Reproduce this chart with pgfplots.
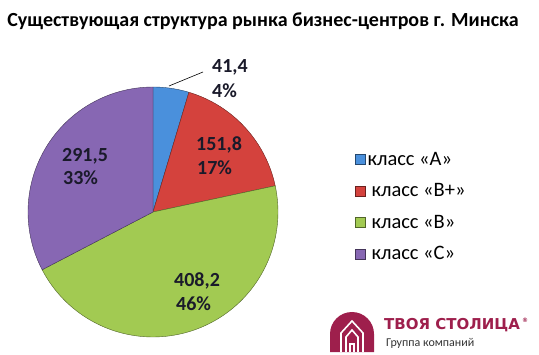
\documentclass[border=0pt]{standalone}
\usepackage{pgfplots}
\pgfplotsset{compat=1.18}
\usepackage{fontspec}
\setmainfont{Carlito}
\newfontfamily\logofont{DejaVu Sans}
\definecolor{cA}{HTML}{4A90DC}
\definecolor{cBp}{HTML}{D4423D}
\definecolor{cB}{HTML}{A2CA52}
\definecolor{cC}{HTML}{8767B3}
\definecolor{logo}{HTML}{9E1F4C}
\definecolor{lbl}{HTML}{1A1A2A}
\begin{document}
\begin{tikzpicture}[x=1pt,y=1pt]
\useasboundingbox (0,0) rectangle (539,354);
% data
\pgfmathsetmacro\vA{41.4}
\pgfmathsetmacro\vBp{151.8}
\pgfmathsetmacro\vB{408.2}
\pgfmathsetmacro\vC{291.5}
\pgfmathsetmacro\tot{\vA+\vBp+\vB+\vC}
\pgfmathsetmacro\aA{90}
\pgfmathsetmacro\aB{\aA-360*(\vA/\tot)}
\pgfmathsetmacro\aC{\aB-360*(\vBp/\tot)}
\pgfmathsetmacro\aD{\aC-360*(\vB/\tot)}
\pgfmathsetmacro\aE{\aD-360*(\vC/\tot)}
\begin{axis}[at={(153pt,142pt)}, anchor=center,
  width=250pt, height=250pt, scale only axis, hide axis,
  xmin=-1, xmax=1, ymin=-1, ymax=1, clip=false,
  legend style={at={(1.308,0.74)}, anchor=north west, draw=none, fill=none,
    font=\fontsize{20.5}{23}\selectfont, row sep=16.8pt, inner sep=0pt,
    legend cell align=left, nodes={inner xsep=2pt, inner ysep=0pt}},
  legend image code/.code={\fill[#1] (0pt,-5pt) rectangle (10pt,5pt);},
  ]
\addplot[fill=cA, draw=cA!50!black, line width=0.4pt, domain=\aB:\aA, samples=20, variable=\t]
  ({cos(t)},{sin(t)}) -- (axis cs:0,0) -- cycle;
\addlegendentry{класс «А»}
\addplot[fill=cBp, draw=cBp!50!black, line width=0.4pt, domain=\aC:\aB, samples=40, variable=\t]
  ({cos(t)},{sin(t)}) -- (axis cs:0,0) -- cycle;
\addlegendentry{\hspace{4pt}класс «В+»}
\addplot[fill=cB, draw=cB!50!black, line width=0.4pt, domain=\aD:\aC, samples=80, variable=\t]
  ({cos(t)},{sin(t)}) -- (axis cs:0,0) -- cycle;
\addlegendentry{\hspace{4pt}класс «В»}
\addplot[fill=cC, draw=cC!50!black, line width=0.4pt, domain=\aE:\aD, samples=60, variable=\t]
  ({cos(t)},{sin(t)}) -- (axis cs:0,0) -- cycle;
\addlegendentry{\hspace{4pt}класс «С»}
\end{axis}
% title
\node[anchor=base, font=\fontsize{20}{24}\selectfont\bfseries] at (263,327) {Существующая структура рынка бизнес-центров г. Минска};
% data labels
\begin{scope}[every node/.style={anchor=base west, inner sep=0pt, text=lbl, font=\fontsize{20}{24}\selectfont\bfseries}]
\node at (212,281) {41,4};
\node at (212,256) {4\%};
\node at (196,203) {151,8};
\node at (197,179) {17\%};
\node at (62,192) {291,5};
\node at (63,169) {33\%};
\node at (174,67) {408,2};
\node at (176,43) {46\%};
\end{scope}
\draw[black, line width=0.6pt] (169,268) -- (203,282);
% logo
\fill[logo] (330,2) -- (330,20) arc[start angle=180, end angle=0, radius=22] -- (374,2) -- cycle;
\draw[white, line width=1.6pt, line join=miter] (341,2) -- (341,21) -- (352,33) -- (363,21) -- (363,2);
\draw[white, line width=1.6pt, line join=miter] (346,2) -- (346,17) -- (352,24) -- (358,17) -- (358,2);
\draw[white, line width=1.4pt] (350,2) -- (350,10) -- (354,10) -- (354,2);
\node[anchor=base west, inner sep=0pt, text=logo, font=\logofont\fontsize{15}{18}\selectfont\bfseries] at (384,24) {ТВОЯ СТОЛИЦА};
\node[anchor=base west, inner sep=0pt, text=logo, font=\logofont\fontsize{6}{7}\selectfont\bfseries] at (522,31) {®};
\node[anchor=base west, inner sep=0pt, text=black!80, font=\fontsize{12}{14}\selectfont] at (386,8) {Группа компаний};
\end{tikzpicture}
\end{document}
